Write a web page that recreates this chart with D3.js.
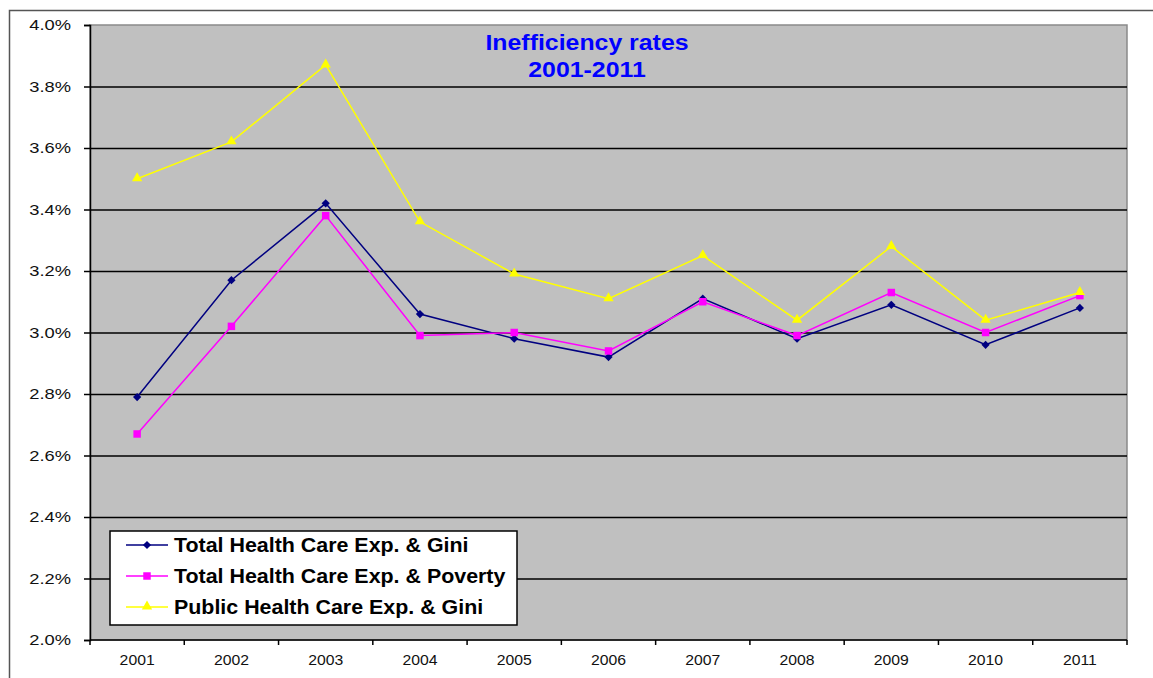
<!DOCTYPE html>
<html>
<head>
<meta charset="utf-8">
<script src="https://cdn.jsdelivr.net/npm/d3@7"></script>
<style>
    body { margin: 0; background: #fff; }
    text { font-family: Arial, "Liberation Sans", sans-serif; }
</style>
</head>
<body>
<div id="chart"></div>
<script>

// Data ///////////////////////////////////////////////////////////////////////

const years = ["2001", "2002", "2003", "2004", "2005", "2006",
               "2007", "2008", "2009", "2010", "2011"];

const totalGini    = [2.79, 3.17, 3.42, 3.06, 2.98, 2.92, 3.11, 2.98, 3.09, 2.96, 3.08];
const totalPoverty = [2.67, 3.02, 3.38, 2.99, 3.00, 2.94, 3.10, 2.99, 3.13, 3.00, 3.12];
const publicGini   = [3.50, 3.62, 3.87, 3.36, 3.19, 3.11, 3.25, 3.04, 3.28, 3.04, 3.13];

const seriesNames = [
    "Total Health Care Exp. & Gini",
    "Total Health Care Exp. & Poverty",
    "Public Health Care Exp. & Gini"
];

const yTicks = [2.0, 2.2, 2.4, 2.6, 2.8, 3.0, 3.2, 3.4, 3.6, 3.8, 4.0];

const titleLines = ["Inefficiency rates", "2001-2011"];

const params = {
    width: 1153,
    height: 678,
    left: 90,
    right: 1127,
    top: 25,
    bottom: 640
};

const series = [
    { name: seriesNames[0], values: totalGini,    color: "#000080", symbol: "diamond" },
    { name: seriesNames[1], values: totalPoverty, color: "#FF00FF", symbol: "square" },
    { name: seriesNames[2], values: publicGini,   color: "#FFFF00", symbol: "triangle" }
];

// Stretch text horizontally (the source picture is a bit wide)
const stretch = (sel, k) => sel.each(function() {
    const w = this.getComputedTextLength();
    d3.select(this)
        .attr("textLength", w * k)
        .attr("lengthAdjust", "spacingAndGlyphs");
});

const marker = (g, kind, color) => {
    if (kind === "diamond") {
        g.append("path")
            .attr("d", d3.symbol(d3.symbolSquare, 34)())
            .attr("transform", "rotate(45)")
            .attr("fill", color);
    } else if (kind === "square") {
        g.append("path")
            .attr("d", d3.symbol(d3.symbolSquare, 56)())
            .attr("fill", color);
    } else {
        g.append("path")
            .attr("d", d3.symbol(d3.symbolTriangle, 46)())
            .attr("transform", "translate(0,-0.5)")
            .attr("fill", color);
    }
};


// Scales /////////////////////////////////////////////////////////////////////

const x = d3.scaleBand()
    .domain(years)
    .range([params.left, params.right]);

const y = d3.scaleLinear()
    .domain([2.0, 4.0])
    .range([params.bottom, params.top]);

const xc = d => x(d) + x.bandwidth() / 2;


// Svg ////////////////////////////////////////////////////////////////////////

const svg = d3.select("#chart")
    .append("svg")
        .attr("width", params.width)
        .attr("height", params.height)
        .attr("viewBox", [0, 0, params.width, params.height]);

// chart frame
svg.append("rect")
    .attr("x", 9.5)
    .attr("y", 10.5)
    .attr("width", 1200)
    .attr("height", 700)
    .attr("fill", "#fff")
    .attr("stroke", "#555")
    .attr("stroke-width", 1.5);

// plot area
svg.append("rect")
    .attr("x", params.left)
    .attr("y", params.top)
    .attr("width", params.right - params.left)
    .attr("height", params.bottom - params.top)
    .attr("fill", "#C0C0C0")
    .attr("stroke", "#8a8a8a")
    .attr("stroke-width", 1.5);

// gridlines
svg.append("g")
    .attr("transform", `translate(${params.left},0)`)
    .call(d3.axisLeft(y)
        .tickValues(yTicks)
        .tickSize(-(params.right - params.left))
        .tickFormat(""))
    .call(g => g.select(".domain").remove())
    .call(g => g.selectAll(".tick line")
        .filter(d => d !== 4.0 && d !== 2.0)
        .attr("stroke", "#000")
        .attr("stroke-width", 1.5))
    .call(g => g.selectAll(".tick line")
        .filter(d => d === 4.0 || d === 2.0)
        .remove());

// y axis
svg.append("g")
    .attr("transform", `translate(${params.left},0)`)
    .call(d3.axisLeft(y)
        .tickValues(yTicks)
        .tickSize(6)
        .tickPadding(13)
        .tickFormat(d => d.toFixed(1) + "%"))
    .call(g => g.select(".domain").attr("stroke", "#000").attr("stroke-width", 1.5))
    .call(g => g.selectAll(".tick line").attr("stroke", "#000").attr("stroke-width", 1.5))
    .call(g => g.selectAll(".tick text")
        .attr("font-size", 15)
        .attr("fill", "#111")
        .call(stretch, 1.22));

// x axis
const xAxis = svg.append("g")
    .attr("transform", `translate(0,${params.bottom})`)
    .call(d3.axisBottom(x)
        .tickSize(0)
        .tickPadding(14))
    .call(g => g.select(".domain").remove())
    .call(g => g.selectAll(".tick text")
        .attr("font-size", 15)
        .attr("fill", "#111")
        .call(stretch, 1.05));

xAxis.append("line")
    .attr("x1", params.left)
    .attr("x2", params.right)
    .attr("stroke", "#000")
    .attr("stroke-width", 1.5);

xAxis.selectAll(".band-tick")
    .data(years.concat(["end"]))
    .join("line")
    .attr("class", "band-tick")
    .attr("x1", d => d === "end" ? params.right : x(d))
    .attr("x2", d => d === "end" ? params.right : x(d))
    .attr("y1", 0)
    .attr("y2", 5)
    .attr("stroke", "#000")
    .attr("stroke-width", 1.5);


// Title //////////////////////////////////////////////////////////////////////

svg.append("g")
    .selectAll("text")
    .data(titleLines)
    .join("text")
    .attr("x", 587)
    .attr("y", (d, i) => 50 + i * 27)
    .attr("text-anchor", "middle")
    .attr("font-size", 22)
    .attr("font-weight", "bold")
    .attr("fill", "#0000FF")
    .text(d => d)
    .call(stretch, 1.13);


// Lines //////////////////////////////////////////////////////////////////////

const line = d3.line()
    .x((d, i) => xc(years[i]))
    .y(d => y(d));

// series drawn in order, later ones on top
series.forEach(s => {
    svg.append("path")
        .datum(s.values)
        .attr("fill", "none")
        .attr("stroke", s.color)
        .attr("stroke-width", 1.5)
        .attr("d", line);

    svg.append("g")
        .selectAll("g")
        .data(s.values)
        .join("g")
        .attr("transform", (d, i) => `translate(${xc(years[i])},${y(d)})`)
        .each(function() { marker(d3.select(this), s.symbol, s.color); });
});


// Legend /////////////////////////////////////////////////////////////////////

const legend = svg.append("g")
    .attr("transform", "translate(110,531)");

legend.append("rect")
    .attr("width", 407)
    .attr("height", 94)
    .attr("fill", "#fff")
    .attr("stroke", "#000")
    .attr("stroke-width", 1.5);

const item = legend.selectAll(".item")
    .data(series)
    .join("g")
    .attr("class", "item")
    .attr("transform", (d, i) => `translate(0,${14 + i * 31})`);

item.append("line")
    .attr("x1", 16)
    .attr("x2", 58)
    .attr("stroke", d => d.color)
    .attr("stroke-width", 1.5);

item.append("g")
    .attr("transform", "translate(37,0)")
    .each(function(d) { marker(d3.select(this), d.symbol, d.color); });

item.append("text")
    .attr("x", 64)
    .attr("y", 7)
    .attr("font-size", 20)
    .attr("font-weight", "bold")
    .attr("fill", "#000")
    .text(d => d.name)
    .call(stretch, 1.07);

</script>
</body>
</html>
